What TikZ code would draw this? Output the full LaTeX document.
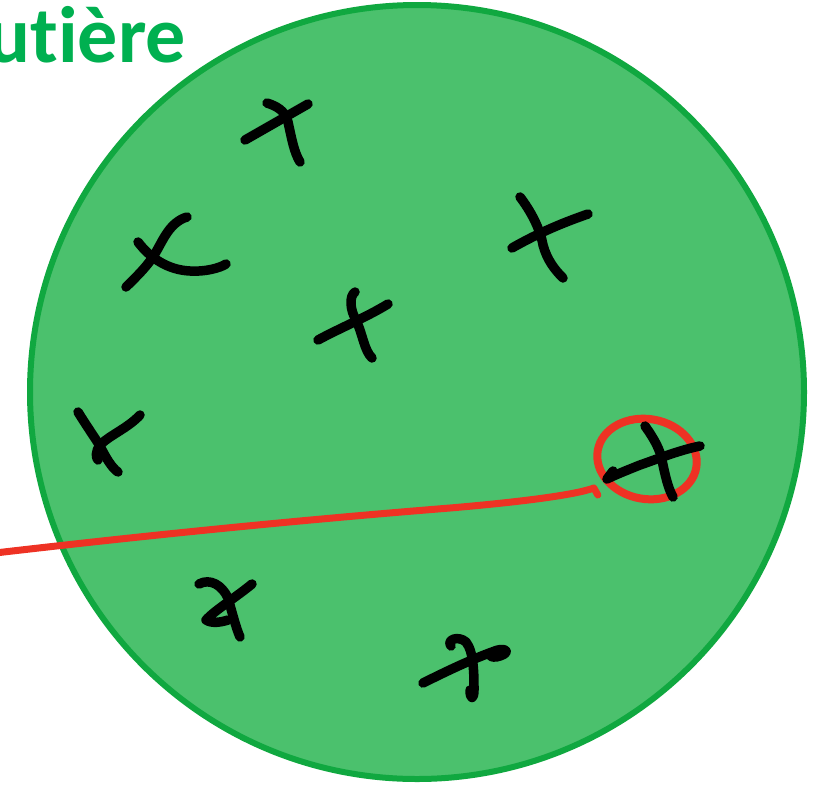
\documentclass[tikz,border=0pt]{standalone}
\usepackage{fontspec}
\newfontfamily\carl[Ligatures=NoCommon]{Carlito}
\usetikzlibrary{shapes.geometric}
\definecolor{fieldfill}{RGB}{75,193,109}
\definecolor{fieldedge}{RGB}{16,168,64}
\definecolor{titlegreen}{RGB}{0,176,80}
\definecolor{penred}{RGB}{238,50,36}
\tikzset{
  ink/.style={line width=9.5pt,line cap=round,line join=round,black},
  redink/.style={line width=7pt,line cap=round,line join=round,penred},
}
\begin{document}
\begin{tikzpicture}[x=1pt,y=-1pt]
\useasboundingbox (0,0) rectangle (821,785);
\node[circle,draw=fieldedge,fill=fieldfill,line width=6pt,minimum size=774pt,inner sep=0pt] (field) at (417,392) {};
\node[anchor=base east,inner sep=0pt,text=titlegreen,font=\carl\bfseries\fontsize{80}{96}\selectfont] (title) at (186,62) {ut\kern0pt ière};
% crosses
\draw[ink] (267,103) .. controls (276,106) and (285,110) .. (288,122) .. controls (292,140) and (294,152) .. (300,162);
\draw[ink] (245,140) -- (308,104);
\draw[ink] (520,197) .. controls (530,210) and (540,228) .. (543,245) .. controls (547,260) and (555,270) .. (563,278);
\draw[ink] (512,248) .. controls (540,232) and (565,222) .. (588,214);
\draw[ink] (355,292) .. controls (349,296) and (350,310) .. (356,320) .. controls (363,335) and (364,350) .. (372,358);
\draw[ink] (318,340) .. controls (340,328) and (365,318) .. (388,304);
\draw[ink] (78,412) .. controls (86,425) and (95,438) .. (100,446) .. controls (106,458) and (112,468) .. (118,472);
\draw[ink] (140,415) .. controls (128,428) and (110,435) .. (100,445) .. controls (95,452) and (96,458) .. (98,460);
\draw[ink] (187,217) .. controls (170,222) and (163,240) .. (156,252) .. controls (148,266) and (135,278) .. (126,287);
\draw[ink] (138,242) .. controls (150,258) and (168,270) .. (190,271) .. controls (205,272) and (220,268) .. (226,264);
\draw[ink] (199,584) .. controls (210,578) and (222,585) .. (228,598) .. controls (232,612) and (236,628) .. (240,637);
\draw[ink] (252,584) .. controls (235,598) and (215,610) .. (206,620) .. controls (212,624) and (222,622) .. (228,620);
\draw[ink] (451,646) .. controls (446,640) and (458,635) .. (466,642) .. controls (474,652) and (474,675) .. (474,690) .. controls (474,700) and (470,700) .. (470,690);
\draw[ink] (423,683) .. controls (445,672) and (470,660) .. (492,652) .. controls (505,646) and (512,652) .. (500,656) .. controls (495,658) and (490,657) .. (490,655);
% red target
\node[ellipse,draw=penred,line width=8pt,minimum width=100pt,minimum height=80pt,rotate=-10,inner sep=0pt] (target) at (647,459) {};
\draw[ink] (645,426) .. controls (655,440) and (660,450) .. (662,460) .. controls (665,475) and (668,488) .. (673,497);
\draw[ink] (700,446) .. controls (680,450) and (660,458) .. (640,465) .. controls (625,471) and (615,475) .. (607,479) -- (613,471);
\coordinate (start) at (-5,553);
\draw[redink] (start) .. controls (150,535) and (300,520) .. (450,508) .. controls (520,502) and (575,495) .. (target.west|-0,488) -- ++(4,7);
\end{tikzpicture}
\end{document}
